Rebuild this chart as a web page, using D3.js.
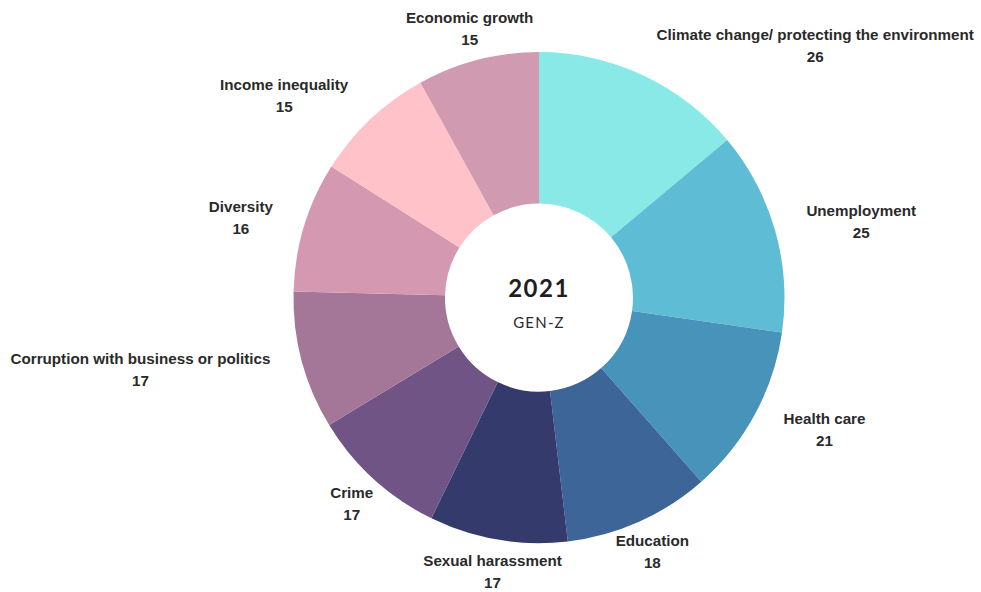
<!DOCTYPE html>
<html>
<head>
<meta charset="utf-8">
<script src="https://cdn.jsdelivr.net/npm/d3@7/dist/d3.min.js"></script>
<style>
  html, body { margin: 0; padding: 0; background: #ffffff; }
  svg { display: block; }
</style>
</head>
<body>
<script>
// Top issues named by Gen-Z respondents, 2021
const issues = [
  "Climate change/ protecting the environment",
  "Unemployment",
  "Health care",
  "Education",
  "Sexual harassment",
  "Crime",
  "Corruption with business or politics",
  "Diversity",
  "Income inequality",
  "Economic growth"
];
const shares = [26, 25, 21, 18, 17, 17, 17, 16, 15, 15];
const sliceColors = [
  "#88e9e7", "#5ebdd4", "#4893ba", "#3d6598", "#343a6c",
  "#6f5485", "#a47698", "#d498b1", "#fec2c8", "#d09ab1"
];
const centerTitle = "2021";
const centerSubtitle = "GEN-Z";

const width = 981, height = 592;
const cx = 539, cy = 297.6;
const outerR = 245.5, innerR = 94;
const labelR = 278;
const lineGap = 11;

const svg = d3.select("body").append("svg")
  .attr("width", width).attr("height", height);

const g = svg.append("g").attr("transform", `translate(${cx},${cy})`);

const data = issues.map((name, i) => ({ name, value: shares[i], color: sliceColors[i] }));

const pie = d3.pie().value(d => d.value).sort(null);
const arc = d3.arc().innerRadius(innerR).outerRadius(outerR);
const arcs = pie(data);

g.selectAll("path.slice")
  .data(arcs)
  .join("path")
  .attr("class", "slice")
  .attr("d", arc)
  .attr("fill", d => d.data.color);

// Labels: two-line block centred on the slice's mid-angle; if the centred
// block would run into the ring, it is anchored to the side instead.
const labels = g.selectAll("g.label")
  .data(arcs)
  .join("g")
  .attr("class", "label");

labels.each(function (d) {
  const sel = d3.select(this);
  const a = (d.startAngle + d.endAngle) / 2;
  const px = labelR * Math.sin(a);
  const py = -labelR * Math.cos(a);

  const t1 = sel.append("text").text(d.data.name);
  const t2 = sel.append("text").text(d.data.value);
  sel.selectAll("text")
    .attr("font-family", "'Liberation Sans', Arial, sans-serif")
    .attr("font-weight", "bold")
    .attr("font-size", 15.2)
    .attr("fill", "#2a2a2a")
    .attr("dominant-baseline", "central");

  const w = Math.max(t1.node().getComputedTextLength(), t2.node().getComputedTextLength());
  const halfH = lineGap + 5.5;

  // does a centred box hit the ring?
  const x0 = px - w / 2, x1 = px + w / 2, y0 = py - halfH, y1 = py + halfH;
  const nx = Math.max(x0, Math.min(0, x1));
  const ny = Math.max(y0, Math.min(0, y1));
  const hits = Math.hypot(nx, ny) < outerR + 2;

  let blockCx = px;
  if (hits) blockCx = Math.sin(a) > 0 ? px + w / 2 : px - w / 2;

  t1.attr("x", blockCx).attr("y", py - lineGap).attr("text-anchor", "middle");
  t2.attr("x", blockCx).attr("y", py + lineGap).attr("text-anchor", "middle");
});

// Centre caption
g.append("text")
  .attr("x", 0).attr("y", -10)
  .attr("text-anchor", "middle")
  .attr("dominant-baseline", "central")
  .attr("font-family", "Lato, 'Open Sans', sans-serif")
  .attr("font-weight", "bold")
  .attr("font-size", 24)
  .attr("letter-spacing", 1.5)
  .attr("fill", "#1e1e1e")
  .text(centerTitle);

g.append("text")
  .attr("x", 0).attr("y", 24.5)
  .attr("text-anchor", "middle")
  .attr("dominant-baseline", "central")
  .attr("font-family", "Lato, 'Open Sans', sans-serif")
  .attr("font-size", 15)
  .attr("letter-spacing", 1.2)
  .attr("fill", "#2a2a2a")
  .text(centerSubtitle);
</script>
</body>
</html>
